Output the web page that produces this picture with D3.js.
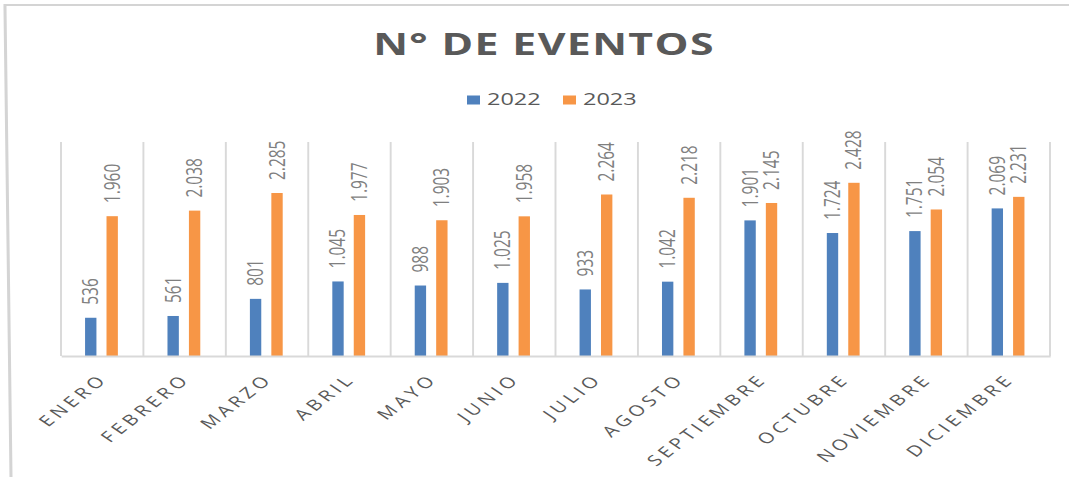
<!DOCTYPE html>
<html>
<head>
<meta charset="utf-8">
<script src="https://cdn.jsdelivr.net/npm/d3@7"></script>
<style>
  html, body { margin: 0; padding: 0; background: #fff; }
  svg { display: block; }
  text { font-family: "Open Sans", sans-serif; }
</style>
</head>
<body>
<div id="chart"></div>
<script>
const meses = ["ENERO", "FEBRERO", "MARZO", "ABRIL", "MAYO", "JUNIO", "JULIO",
  "AGOSTO", "SEPTIEMBRE", "OCTUBRE", "NOVIEMBRE", "DICIEMBRE"];
const series = ["2022", "2023"];
const eventos2022 = [536, 561, 801, 1045, 988, 1025, 933, 1042, 1901, 1724, 1751, 2069];
const eventos2023 = [1960, 2038, 2285, 1977, 1903, 1958, 2264, 2218, 2145, 2428, 2054, 2231];
const yMax = 3000;

const width = 1069, height = 477;
// the picture is stretched sideways, so draw in narrower units and let the viewBox stretch it
const sx = 1.38;
const vw = width / sx;
const X = px => px / sx;

const colors = { "2022": "#4F81BD", "2023": "#F79646" };
const es = d3.formatLocale({ decimal: ",", thousands: ".", grouping: [3], currency: ["", ""] });
const fmt = es.format(",");

const margin = { top: 142, bottom: 121, left: X(61), right: vw - X(1050) };

const svg = d3.select("#chart").append("svg")
  .attr("width", width).attr("height", height)
  .attr("viewBox", `0 0 ${vw} ${height}`)
  .attr("preserveAspectRatio", "none");

svg.append("rect").attr("width", vw).attr("height", height).attr("fill", "#fff");

// outer frame (top and left edge of the pasted chart)
svg.append("path")
  .attr("d", `M${X(11)},${height} L${X(5)},8 L${X(5)},5 L${vw},5`)
  .attr("fill", "none").attr("stroke", "#d4d4d4").attr("stroke-width", 2.2);

const x0 = d3.scaleBand().domain(meses)
  .range([margin.left, vw - margin.right]).padding(0);
const x1 = d3.scaleBand().domain(series)
  .range([x0.bandwidth() * 0.292, x0.bandwidth() * 0.69]).paddingInner(0.47);
const y = d3.scaleLinear().domain([0, yMax]).range([height - margin.bottom, margin.top]);

// vertical separators between categories
svg.append("g").selectAll("line")
  .data(meses.concat(["__end"]))
  .join("line")
  .attr("x1", (d, i) => margin.left + i * x0.step())
  .attr("x2", (d, i) => margin.left + i * x0.step())
  .attr("y1", y(yMax)).attr("y2", y(0))
  .attr("stroke", "#d9d9d9").attr("stroke-width", 1.4);

const rows = meses.map((m, i) => ({ mes: m, v: { "2022": eventos2022[i], "2023": eventos2023[i] } }));

const groups = svg.append("g").selectAll("g")
  .data(rows).join("g")
  .attr("transform", d => `translate(${x0(d.mes)},0)`);

groups.selectAll("rect")
  .data(d => series.map(s => ({ s, v: d.v[s] })))
  .join("rect")
  .attr("x", d => x1(d.s))
  .attr("width", x1.bandwidth())
  .attr("y", d => y(d.v))
  .attr("height", d => y(0) - y(d.v))
  .attr("fill", d => colors[d.s]);

groups.selectAll("text")
  .data(d => series.map(s => ({ s, v: d.v[s] })))
  .join("text")
  .attr("transform", d => `translate(${x1(d.s) + x1.bandwidth() / 2},${y(d.v) - 13}) rotate(-90)`)
  .attr("dy", "0.35em")
  .attr("font-size", 15.5)
  .attr("fill", "#7f7f7f")
  .text(d => fmt(d.v));

// x axis
const xAxis = svg.append("g")
  .attr("transform", `translate(0,${y(0)})`)
  .call(d3.axisBottom(x0).tickSize(0).tickPadding(0));
xAxis.select(".domain").attr("stroke", "#d9d9d9").attr("stroke-width", 2);
xAxis.selectAll(".tick text")
  .attr("font-size", 15)
  .attr("fill", "#595959")
  .attr("letter-spacing", 3.2)
  .attr("text-anchor", "end")
  .attr("dy", null).attr("y", null)
  .attr("transform", "translate(5,24) rotate(-47)");

// title
svg.append("text")
  .attr("x", X(544)).attr("y", 55)
  .attr("text-anchor", "middle")
  .attr("font-size", 31).attr("font-weight", "bold")
  .attr("letter-spacing", 1)
  .attr("fill", "#595959")
  .text("N° DE EVENTOS");

// legend
const legend = svg.append("g").attr("transform", `translate(${X(467)},0)`);
const lg = legend.selectAll("g").data(series).join("g")
  .attr("transform", (d, i) => `translate(${i * X(96)},0)`);
lg.append("rect").attr("x", 0).attr("y", 95.5)
  .attr("width", X(13)).attr("height", 9)
  .attr("fill", d => colors[d]);
lg.append("text").attr("x", X(20)).attr("y", 105)
  .attr("font-size", 17).attr("fill", "#595959")
  .text(d => d);
</script>
</body>
</html>
